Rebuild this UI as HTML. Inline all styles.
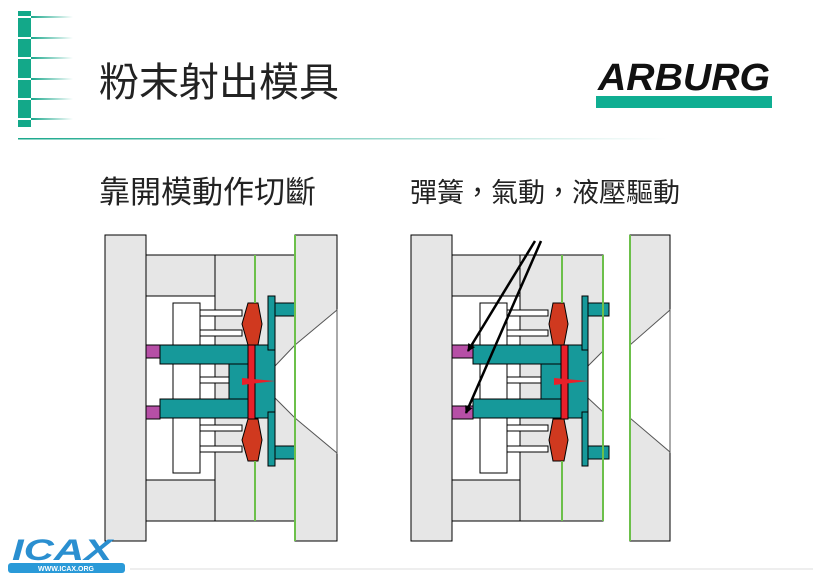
<!DOCTYPE html>
<html><head><meta charset="utf-8"><style>
html,body{margin:0;padding:0;background:#fff;}
body{width:813px;height:581px;overflow:hidden;position:relative;font-family:"Liberation Sans","Noto Sans CJK TC",sans-serif;}
</style></head><body>
<svg width="813" height="581" viewBox="0 0 813 581" xmlns="http://www.w3.org/2000/svg" style="position:absolute;left:0;top:0">
<defs>
<linearGradient id="gl" x1="0" x2="1"><stop offset="0" stop-color="#1aa88c"/><stop offset="1" stop-color="#1aa88c" stop-opacity="0"/></linearGradient>
<linearGradient id="hl" x1="0" x2="1"><stop offset="0" stop-color="#1aa88c"/><stop offset="1" stop-color="#1aa88c" stop-opacity="0"/></linearGradient>
<marker id="ar" markerWidth="8" markerHeight="8" refX="7" refY="4" orient="auto" markerUnits="userSpaceOnUse"><path d="M0,0 L8,4 L0,8 z" fill="#000"/></marker>
</defs>
<!-- header bar -->
<rect x="18" y="11" width="13" height="116" fill="#13a889"/>
<g fill="#fff"><rect x="18" y="16" width="13" height="2"/><rect x="18" y="37" width="13" height="2"/><rect x="18" y="57" width="13" height="2"/><rect x="18" y="78" width="13" height="2"/><rect x="18" y="98" width="13" height="2"/><rect x="18" y="118" width="13" height="2"/></g>
<g fill="url(#gl)">
<rect x="31" y="16" width="42" height="2"/><rect x="31" y="37" width="42" height="2"/><rect x="31" y="57" width="42" height="2"/>
<rect x="31" y="78" width="42" height="2"/><rect x="31" y="98" width="42" height="2"/><rect x="31" y="118" width="42" height="2"/>
</g>
<rect x="18" y="138" width="650" height="1.5" fill="url(#hl)"/>
<text x="99" y="96" font-size="40" font-family="Liberation Sans,Noto Sans CJK TC,sans-serif" fill="#222">粉末射出模具</text>
<text x="684" y="90" font-size="38" font-weight="bold" font-style="italic" text-anchor="middle" font-family="Liberation Sans,sans-serif" fill="#111" textLength="172" lengthAdjust="spacingAndGlyphs">ARBURG</text>
<rect x="596" y="96" width="176" height="12" fill="#0fae92"/>
<text x="99" y="203" font-size="31" fill="#222">靠開模動作切斷</text>
<text x="410" y="202" font-size="27" fill="#222">彈簧，氣動，液壓驅動</text>
<line x1="130" y1="569" x2="813" y2="569" stroke="#ddd" stroke-width="1"/>

<g stroke="#000" stroke-width="1">
<!-- LEFT DIAGRAM -->
<rect x="105" y="235" width="41" height="306" fill="#e6e6e6"/>
<rect x="146" y="255" width="149" height="266" fill="#e6e6e6"/>
<line x1="215" y1="255" x2="215" y2="521"/>
<rect x="146" y="296" width="69" height="184" fill="#fff"/>
<rect x="173" y="303" width="27" height="170" fill="#fff"/>
<rect x="295" y="235" width="42" height="306" fill="#e6e6e6"/>
<polygon points="337,310 295,345 275,366 275,398 295,418 337,453" fill="#fff" stroke="#555"/>
<g fill="#fff"><rect x="200" y="310" width="42" height="6"/><rect x="200" y="330" width="42" height="6"/><rect x="200" y="377" width="42" height="6"/><rect x="200" y="425" width="42" height="6"/><rect x="200" y="446" width="42" height="6"/></g>
<g fill="#16999a">
<rect x="160" y="345" width="88" height="19"/><rect x="160" y="399" width="88" height="19"/>
<rect x="229" y="364" width="20" height="35"/><rect x="255" y="345" width="20" height="73"/>
<rect x="268" y="296" width="7" height="54"/><rect x="268" y="412" width="7" height="54"/>
<rect x="275" y="303" width="20" height="13"/><rect x="275" y="446" width="20" height="13"/>
</g>
<g fill="#b64fa6"><rect x="146" y="345" width="14" height="13"/><rect x="146" y="406" width="14" height="13"/></g>
<polygon points="248,303 258,303 262,324 258,345 248,345 242,324" fill="#d0391f"/>
<polygon points="248,419 258,419 262,440 258,461 248,461 242,440" fill="#d0391f"/>
<rect x="248" y="345" width="7" height="74" fill="#e8202a"/>
<polygon points="242,378 275,381 242,385" fill="#e8202a" stroke="none"/>
</g>
<g stroke="#6cc04a" stroke-width="2"><line x1="255" y1="255" x2="255" y2="303"/><line x1="255" y1="461" x2="255" y2="521"/><line x1="295" y1="235" x2="295" y2="541"/></g>

<g stroke="#000" stroke-width="1">
<!-- RIGHT DIAGRAM -->
<rect x="411" y="235" width="41" height="306" fill="#e6e6e6"/>
<rect x="452" y="255" width="151" height="266" fill="#e6e6e6"/>
<line x1="520" y1="255" x2="520" y2="521"/>
<rect x="452" y="296" width="68" height="184" fill="#fff"/>
<rect x="480" y="303" width="27" height="170" fill="#fff"/>
<polygon points="603,351 588,366 588,398 603,412" fill="#fff" stroke="#555"/>
<rect x="630" y="235" width="40" height="306" fill="#e6e6e6"/>
<polygon points="670,310 630,345 630,418 670,452" fill="#fff" stroke="#555"/>
<g fill="#fff"><rect x="507" y="310" width="41" height="6"/><rect x="507" y="330" width="41" height="6"/><rect x="507" y="377" width="41" height="6"/><rect x="507" y="425" width="41" height="6"/><rect x="507" y="446" width="41" height="6"/></g>
<g fill="#16999a">
<rect x="473" y="345" width="88" height="19"/><rect x="473" y="399" width="88" height="19"/>
<rect x="541" y="364" width="20" height="35"/><rect x="568" y="345" width="20" height="73"/>
<rect x="582" y="296" width="6" height="54"/><rect x="582" y="412" width="6" height="54"/>
<rect x="588" y="303" width="21" height="13"/><rect x="588" y="446" width="21" height="13"/>
</g>
<g fill="#b64fa6"><rect x="452" y="345" width="21" height="13"/><rect x="452" y="406" width="21" height="13"/></g>
<polygon points="553,303 564,303 568,324 564,345 553,345 549,324" fill="#d0391f"/>
<polygon points="553,419 564,419 568,440 564,461 553,461 549,440" fill="#d0391f"/>
<rect x="561" y="345" width="7" height="74" fill="#e8202a"/>
<polygon points="554,378 588,381 554,385" fill="#e8202a" stroke="none"/>
</g>
<g stroke="#6cc04a" stroke-width="2"><line x1="562" y1="255" x2="562" y2="303"/><line x1="562" y1="461" x2="562" y2="521"/><line x1="603" y1="255" x2="603" y2="521"/><line x1="630" y1="235" x2="630" y2="541"/></g>
<g stroke="#000" stroke-width="2.5"><line x1="535" y1="241" x2="468" y2="351" marker-end="url(#ar)"/><line x1="541" y1="241" x2="466" y2="413" marker-end="url(#ar)"/></g>

<!-- ICAX logo -->
<text x="62" y="560" font-size="30" font-style="italic" font-weight="bold" text-anchor="middle" fill="#2a8fd0" font-family="Liberation Sans,sans-serif" textLength="100" lengthAdjust="spacingAndGlyphs">ICAX</text>
<rect x="8" y="563" width="117" height="10" rx="3" fill="#2a9ad8"/>
<text x="66" y="571" font-size="7" font-weight="bold" fill="#fff" text-anchor="middle" font-family="Liberation Sans,sans-serif">WWW.ICAX.ORG</text>
</svg>
</body></html>
